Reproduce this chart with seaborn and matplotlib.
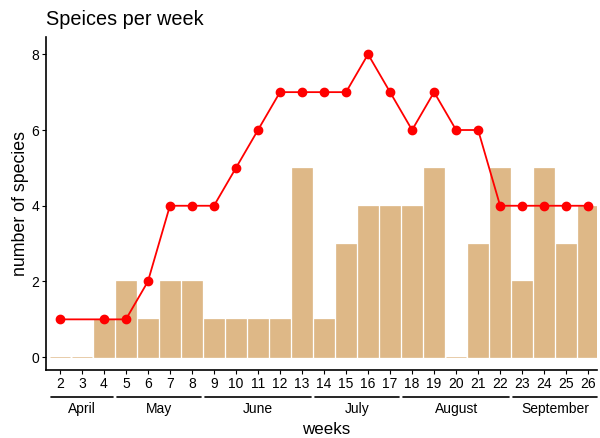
import numpy as np
import pandas as pd
import seaborn as sb
import matplotlib.pyplot as plt
from matplotlib.transforms import blended_transform_factory

weeks = list(range(2, 27))
species_week = [0, 0, 1, 2, 1, 2, 2, 1, 1, 1, 1, 5, 1, 3, 4, 4, 4, 5, 0, 3, 5, 2, 5, 3, 4]
species_cum = [1, np.nan, 1, 1, 2, 4, 4, 4, 5, 6, 7, 7, 7, 7, 8, 7, 6, 7, 6, 6, 4, 4, 4, 4, 4]
months = ['April', 'May', 'June', 'July', 'August', 'September']
month_start = [2, 5, 9, 14, 18, 23]
month_end = [4, 8, 13, 17, 22, 26]

data = pd.DataFrame({'week': weeks, 'n': species_week, 'total': species_cum})

sb.set_style('ticks')
plt.rcParams['font.family'] = ['Liberation Sans', 'DejaVu Sans']
plt.rcParams['text.color'] = 'black'
plt.rcParams['axes.labelcolor'] = 'black'

fig = plt.figure(figsize=(6, 4.38), dpi=100)
ax = fig.add_axes([0.077, 0.155, 0.918, 0.76])

sb.barplot(x='week', y='n', data=data, native_scale=True, color='#DEB887',
           saturation=1, width=0.9, edgecolor='#DEB887', linewidth=0.5, ax=ax)
line = data.dropna()
ax.plot(line['week'], line['total'], color='red', lw=1.3, marker='o', ms=6, zorder=3)

ax.set_xlim(1.38, 26.4)
ax.set_ylim(-0.34, 8.45)
ax.set_yticks([0, 2, 4, 6, 8])
ax.set_xticks(weeks)
ax.set_xticklabels([str(w) for w in weeks])
ax.tick_params(labelsize=10, length=3, width=0.8, colors='black', pad=2)
for s in ['top', 'right']:
    ax.spines[s].set_visible(False)
for s in ['left', 'bottom']:
    ax.spines[s].set_color('black')
    ax.spines[s].set_linewidth(1.2)
ax.set_ylabel('number of species', fontsize=12.8, labelpad=2)
ax.set_xlabel('')

tr = blended_transform_factory(ax.transData, ax.transAxes)
for m, a, b in zip(months, month_start, month_end):
    ax.plot([a - 0.42, b + 0.42], [-0.081, -0.081], color='black', lw=1.2,
            transform=tr, clip_on=False)
    ax.text((a + b) / 2, -0.118, m, transform=tr, ha='center', va='center', fontsize=10)
fig.text(0.543, 0.02, 'weeks', ha='center', va='center', fontsize=12.2)

fig.text(0.077, 0.955, 'Speices per week', ha='left', va='center', fontsize=14.3)

fig.savefig('out.png', dpi=100)
